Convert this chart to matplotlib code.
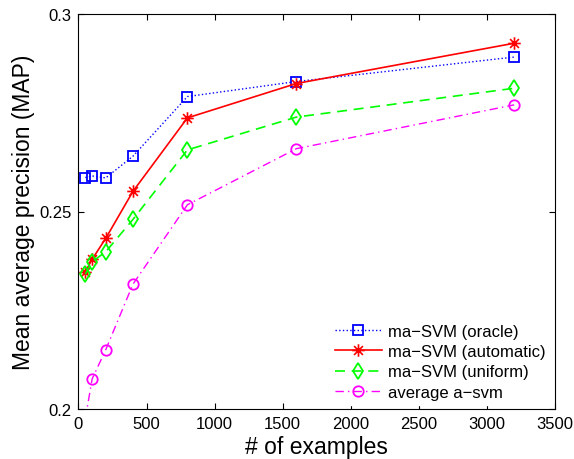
import matplotlib
matplotlib.use("Agg")
import matplotlib.pyplot as plt
from matplotlib.path import Path

plt.rcParams['font.family'] = ['Liberation Sans', 'DejaVu Sans']

n_examples = [50, 100, 200, 400, 800, 1600, 3200]
oracle = [0.2586, 0.2590, 0.2585, 0.2640, 0.2791, 0.2829, 0.2891]
automatic = [0.2347, 0.2379, 0.2432, 0.2551, 0.2737, 0.2824, 0.2926]
uniform = [0.2341, 0.2373, 0.2398, 0.2480, 0.2656, 0.2739, 0.2812]
average = [0.1975, 0.2076, 0.2150, 0.2316, 0.2517, 0.2659, 0.2770]

labels = ['ma\u2212SVM (oracle)', 'ma\u2212SVM (automatic)', 'ma\u2212SVM (uniform)', 'average a\u2212svm']
xticks = [0, 500, 1000, 1500, 2000, 2500, 3000, 3500]
yticks = [0.2, 0.25, 0.3]
ytick_labels = ['0.2', '0.25', '0.3']

# MATLAB-style asterisk marker (plus + cross)
d = 0.7071
asterisk = Path([(-1, 0), (1, 0), (0, -1), (0, 1), (-d, -d), (d, d), (-d, d), (d, -d)],
                [Path.MOVETO, Path.LINETO] * 4)

fig = plt.figure(figsize=(5.74, 4.6), dpi=100)
ax = fig.add_axes([78.5/574, (460-410)/460, (555-78.5)/574, (410-15)/460])

ax.plot(n_examples, oracle, color='#0000ff', linestyle=':', marker='s', markersize=6.5,
        markerfacecolor='none', markeredgewidth=1.3, linewidth=1.0, label=labels[0])
ax.plot(n_examples, automatic, color='#ff0000', linestyle='-', marker=asterisk, markersize=9,
        markerfacecolor='none', markeredgewidth=1.2, linewidth=1.2, label=labels[1])
ax.plot(n_examples, uniform, color='#00ff00', linestyle=(0, (6, 4)), marker='d', markersize=8,
        markerfacecolor='none', markeredgewidth=1.3, linewidth=1.2, label=labels[2])
ax.plot(n_examples, average, color='#ff00ff', linestyle=(0, (6, 3, 1, 3)), marker='o', markersize=7.5,
        markerfacecolor='none', markeredgewidth=1.3, linewidth=1.0, label=labels[3])

ax.set_xlim(0, 3500)
ax.set_ylim(0.2, 0.3)
ax.set_xticks(xticks)
ax.set_yticks(yticks)
ax.set_yticklabels(ytick_labels)
ax.tick_params(direction='in', top=True, right=True, labelsize=12, length=4, pad=5)
ax.set_xlabel('# of examples', fontsize=16.5, labelpad=3)
ax.set_ylabel('Mean average precision (MAP)', fontsize=16.5, labelpad=3)

leg = ax.legend(loc='lower right', fontsize=12, frameon=True, fancybox=False,
                edgecolor='white', framealpha=1, handlelength=2.8, borderpad=0.3,
                labelspacing=0.32, handletextpad=0.4, borderaxespad=0.25)

fig.savefig('out.png', dpi=100)
